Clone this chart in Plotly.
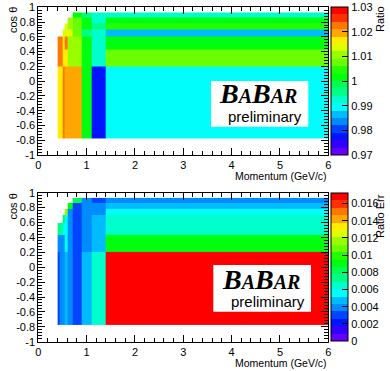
import colorsys
import plotly.graph_objects as go

W, H = 390, 371

# bin edges (momentum in GeV/c, cos theta)
p_edges = [0.4, 0.45, 0.5, 0.55, 0.6, 0.7, 0.9, 1.1, 1.4, 6.0]
cos_edges = [-0.78, 0.2, 0.43, 0.6, 0.7, 0.78, 0.865, 0.93]

# ratio per bin, rows = cos theta bins (bottom to top)
ratio = [
    [1.016, 1.016, 1.022, 1.020, 1.020, 1.020, 1.001, 0.978, 0.989],
    [1.022, 1.022, 1.016, 1.016, 1.010, 1.010, 1.001, 0.992, 1.007],
    [1.022, 1.022, 1.016, 1.022, 1.010, 1.010, 1.001, 0.992, 1.001],
    [None, None, 1.013, 1.013, 1.013, 1.007, 0.995, 0.992, 0.986],
    [None, None, None, 1.013, 1.010, 1.007, 1.001, 0.995, 1.004],
    [None, None, None, None, 1.010, 1.007, 1.001, 0.992, 1.001],
    [None, None, None, None, None, 1.001, 0.995, 0.992, 0.992],
]

# error on the ratio per bin
ratio_err = [
    [0.0030, 0.0039, 0.0039, 0.0047, 0.0039, 0.0030, 0.0047, 0.0065, 0.0168],
    [0.0039, 0.0039, 0.0039, 0.0056, 0.0039, 0.0030, 0.0039, 0.0047, 0.0090],
    [0.0073, 0.0073, 0.0056, 0.0056, 0.0039, 0.0030, 0.0039, 0.0047, 0.0065],
    [None, None, 0.0082, 0.0056, 0.0039, 0.0030, 0.0039, 0.0047, 0.0065],
    [None, None, None, 0.0116, 0.0039, 0.0030, 0.0039, 0.0039, 0.0056],
    [None, None, None, None, 0.0090, 0.0030, 0.0039, 0.0039, 0.0047],
    [None, None, None, None, None, 0.0082, 0.0039, 0.0030, 0.0039],
]

x_ticks = [0, 1, 2, 3, 4, 5, 6]
y_ticks = [-1, -0.8, -0.6, -0.4, -0.2, 0, 0.2, 0.4, 0.6, 0.8, 1]
y_labels = ['-1', '-0.8', '-0.6', '-0.4', '-0.2', '0', '0.2', '0.4', '0.6', '0.8', '1']
ratio_ticks = [0.97, 0.98, 0.99, 1.0, 1.01, 1.02, 1.03]
ratio_labels = ['0.97', '0.98', '0.99', '1', '1.01', '1.02', '1.03']
err_ticks = [0, 0.002, 0.004, 0.006, 0.008, 0.01, 0.012, 0.014, 0.016]
err_labels = ['0', '0.002', '0.004', '0.006', '0.008', '0.01', '0.012', '0.014', '0.016']


def fx(px):
    return px / W


def fy(py):
    return 1 - py / H


def root_palette(n=20):
    # ROOT "pretty" violet->red palette, sampled into n contour bands
    cs = []
    for i in range(n):
        k = int((i + 0.99) * 50 / n)
        if k >= 49:
            rgb = (1.0, 0.0, 0.0)
        else:
            hue = 280 - (k + 1) * 5.6
            rgb = colorsys.hls_to_rgb(hue / 360.0, 0.5, 1.0)
        c = 'rgb(%d,%d,%d)' % tuple(round(v * 255) for v in rgb)
        cs += [[i / n, c], [(i + 1) / n, c]]
    return cs


pal = root_palette()
FONT = 'Liberation Sans'

top_dom = [fy(155), fy(7.3)]
bot_dom = [fy(341.7), fy(192.7)]
x_dom = [fx(38.3), fx(328.3)]

cbar_common = dict(
    x=fx(330.7), xanchor='left', thickness=17, thicknessmode='pixels',
    len=148 / H, lenmode='fraction', yanchor='middle', xpad=0, ypad=0,
    outlinewidth=1, outlinecolor='black', ticks='inside', ticklen=6,
    tickcolor='black', tickfont=dict(family=FONT, size=11, color='black'),
)

fig = go.Figure()
fig.add_trace(go.Heatmap(
    x=p_edges, y=cos_edges, z=ratio, zmin=0.97, zmax=1.03,
    colorscale=pal, xaxis='x', yaxis='y', hoverongaps=False,
    colorbar=dict(y=sum(top_dom) / 2, tickvals=ratio_ticks,
                  ticktext=ratio_labels, **cbar_common),
))
fig.add_trace(go.Heatmap(
    x=p_edges, y=cos_edges, z=ratio_err, zmin=0, zmax=0.0172,
    colorscale=pal, xaxis='x2', yaxis='y2', hoverongaps=False,
    colorbar=dict(y=sum(bot_dom) / 2, tickvals=err_ticks,
                  ticktext=err_labels, **cbar_common),
))

axis_common = dict(
    showline=True, linecolor='black', linewidth=1, mirror='ticks',
    ticks='inside', ticklen=7, tickcolor='black', showgrid=False,
    zeroline=False, automargin=False,
    tickfont=dict(family=FONT, size=11, color='black'),
)
xax = dict(range=[0, 6], tickvals=x_ticks, domain=x_dom,
           minor=dict(ticks='inside', ticklen=4, dtick=0.2, tickcolor='black'),
           **axis_common)
yax = dict(range=[-1, 1], tickvals=y_ticks, ticktext=y_labels,
           minor=dict(ticks='inside', ticklen=4, dtick=0.04, tick0=0, tickcolor='black'),
           **axis_common)

# BaBar logo boxes and axis titles
shapes = []
annotations = []
for box, babar_y, prel_y, prel_x, babar_x in [
    ((211, 81, 308.3, 126.7), 93, 116.5, 265, 258),
    ((213.3, 265, 311, 311.7), 279, 301.5, 268, 261),
]:
    shapes.append(dict(type='rect', xref='paper', yref='paper',
                       x0=fx(box[0]), x1=fx(box[2]), y0=fy(box[3]), y1=fy(box[1]),
                       fillcolor='white', line=dict(width=0), layer='above'))
    annotations.append(dict(
        xref='paper', yref='paper', x=fx(babar_x), y=fy(babar_y),
        text="B<span style='font-size:20px'>A</span>B<span style='font-size:20px'>AR</span>",
        showarrow=False, xanchor='center', yanchor='middle',
        font=dict(family='Liberation Serif', size=28, color='black',
                  weight='bold', style='italic')))
    annotations.append(dict(
        xref='paper', yref='paper', x=fx(prel_x), y=fy(prel_y),
        text='preliminary', showarrow=False, xanchor='center', yanchor='middle',
        font=dict(family=FONT, size=15, color='black')))

for top in (0, 186.5):
    annotations.append(dict(
        xref='paper', yref='paper', x=fx(328.5), y=fy(top + 176),
        text='Momentum (GeV/c)', showarrow=False, xanchor='right', yanchor='middle',
        font=dict(family=FONT, size=10.5, color='black')))
    annotations.append(dict(
        xref='paper', yref='paper', x=fx(13), y=fy(top + 5),
        text='cos θ', showarrow=False, textangle=-90, xanchor='center', yanchor='top',
        font=dict(family=FONT, size=11, color='black')))

annotations.append(dict(
    xref='paper', yref='paper', x=fx(380), y=fy(4), text='Ratio',
    showarrow=False, textangle=-90, xanchor='center', yanchor='top',
    font=dict(family=FONT, size=11, color='black')))
annotations.append(dict(
    xref='paper', yref='paper', x=fx(380), y=fy(192), text='Ratio Err',
    showarrow=False, textangle=-90, xanchor='center', yanchor='top',
    font=dict(family=FONT, size=11, color='black')))

fig.update_layout(
    width=W, height=H,
    margin=dict(l=0, r=0, t=0, b=0, autoexpand=False),
    paper_bgcolor='white', plot_bgcolor='white',
    xaxis=dict(anchor='y', **xax),
    yaxis=dict(anchor='x', domain=top_dom, **yax),
    xaxis2=dict(anchor='y2', **xax),
    yaxis2=dict(anchor='x2', domain=bot_dom, **yax),
    shapes=shapes,
    annotations=annotations,
    showlegend=False,
)

# drop the default 8px page margin so the figure fills the window
fig.write_html('out.html', config={'displayModeBar': False},
               post_script="document.body.style.margin='0px';")
